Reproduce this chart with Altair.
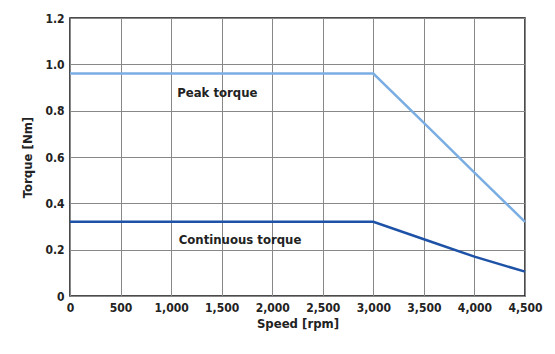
import altair as alt
import pandas as pd

speed = [0, 3000, 3500, 4000, 4500]
peak = [0.96, 0.96, 0.747, 0.533, 0.32]
cont = [0.32, 0.32, 0.245, 0.17, 0.105]
series = ["Peak torque", "Continuous torque"]
label_speed = [1060, 1075]
label_torque = [0.876, 0.243]

rows = []
for s, vals in zip(series, [peak, cont]):
    for x, v in zip(speed, vals):
        rows.append({"speed": x, "torque": v, "series": s})
df = pd.DataFrame(rows)
labels = pd.DataFrame({"speed": label_speed, "torque": label_torque, "text": series})

FONT = "'DejaVu Sans Condensed', 'Roboto Condensed', 'Liberation Sans Narrow', sans-serif"

xscale = alt.Scale(domain=[0, 4500], nice=False)
yscale = alt.Scale(domain=[0, 1.2], nice=False)

lines = alt.Chart(df).mark_line(strokeWidth=2.5).encode(
    x=alt.X("speed:Q", scale=xscale, title="Speed [rpm]",
            axis=alt.Axis(values=list(range(0, 4501, 500)), labelOverlap=False, labelFlush=False,
                          labelExpr="datum.value == 0 ? '0' : format(datum.value, ',')")),
    y=alt.Y("torque:Q", scale=yscale, title="Torque [Nm]",
            axis=alt.Axis(values=[0, 0.2, 0.4, 0.6, 0.8, 1.0, 1.2], labelOverlap=False, labelFlush=False,
                          labelExpr="datum.value == 0 ? '0' : format(datum.value, '.1f')")),
    color=alt.Color("series:N", scale=alt.Scale(domain=series, range=["#7aaee3", "#1d52a6"]), legend=None),
)

text = alt.Chart(labels).mark_text(align="left", baseline="middle", font=FONT, fontSize=13,
                                   fontWeight="bold", color="#222").encode(
    x=alt.X("speed:Q", scale=xscale),
    y=alt.Y("torque:Q", scale=yscale),
    text="text:N",
)

chart = (lines + text).properties(
    width=455, height=278,
    autosize=alt.AutoSizeParams(type="none"),
    padding={"left": 62, "top": 10, "right": 22, "bottom": 50},
).configure_view(stroke="#111", strokeWidth=1.5).configure_axis(
    grid=True, gridColor="#888", gridWidth=1, gridOpacity=1,
    domain=False, ticks=False,
    labelFont=FONT, labelFontSize=12, labelFontWeight="bold", labelColor="#222",
    titleFont=FONT, titleFontSize=13, titleFontWeight="bold", titleColor="#222",
    labelPadding=6,
).configure_axisY(titlePadding=10).configure_axisX(titlePadding=4)

chart.save("out.html", embed_options={"renderer": "svg", "actions": False})
